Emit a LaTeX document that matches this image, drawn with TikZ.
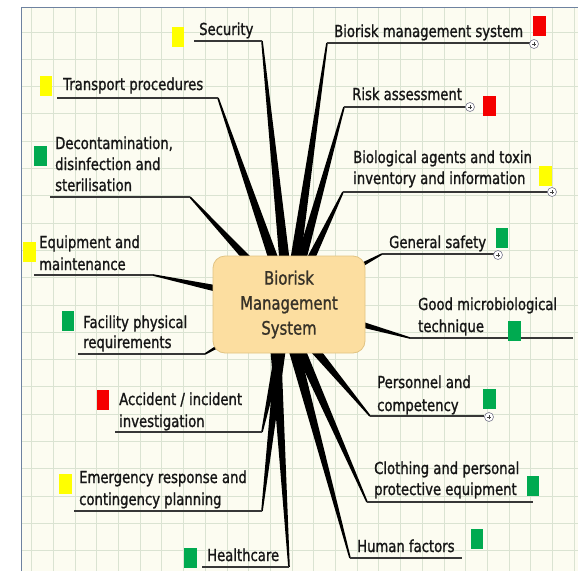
\documentclass[tikz,border=0pt]{standalone}
\usepackage{fontspec}
\setmainfont[FakeStretch=0.8,FakeBold=1.2]{DejaVu Sans}
\usetikzlibrary{calc}
\definecolor{bgc}{RGB}{252,252,241}
\definecolor{gridc}{RGB}{218,227,210}
\definecolor{framec}{RGB}{110,130,160}
\definecolor{txtc}{RGB}{22,22,22}
\definecolor{ulc}{RGB}{55,55,55}
\definecolor{corefill}{RGB}{252,222,160}
\definecolor{coredraw}{RGB}{225,195,130}
\definecolor{coretxt}{RGB}{55,50,40}
\definecolor{fy}{RGB}{255,255,0}
\definecolor{fr}{RGB}{245,0,0}
\definecolor{fg}{RGB}{0,170,80}
\definecolor{plc}{RGB}{120,120,140}
\newcommand\mlines[1]{\begin{tabular}[t]{@{}l@{}}#1\end{tabular}}
\newcommand\branchwedge[2]{\fill[black] ($(#1)!0.8pt!90:(#2)$) -- ($(#2)!6pt!-90:(#1)$) -- ($(#2)!6pt!90:(#1)$) -- ($(#1)!0.8pt!-90:(#2)$) -- cycle;}
\tikzset{
  lbl/.style={font=\fontsize{16.5}{21}\selectfont, inner sep=0pt, anchor=base west, text=txtc},
  uline/.style={draw=ulc, line width=1.1pt},
  flag/.style={rectangle, inner sep=0pt, minimum width=12.5pt, minimum height=20pt},
  plusc/.style={circle, draw=plc, fill=white, minimum size=9pt, inner sep=0pt, line width=0.6pt,
    path picture={\draw[line width=0.7pt, black!75]
      ([xshift=-2.2pt]path picture bounding box.center) -- ([xshift=2.2pt]path picture bounding box.center)
      ([yshift=-2.2pt]path picture bounding box.center) -- ([yshift=2.2pt]path picture bounding box.center);}},
  corebox/.style={rectangle, rounded corners=12pt, fill=corefill, draw=coredraw, line width=0.8pt,
    minimum width=152pt, minimum height=97pt, align=center, text=coretxt,
    font=\fontsize{18.5}{25}\selectfont}
}
\begin{document}
\begin{tikzpicture}[x=1pt,y=-1pt]
% background
\fill[white] (0,0) rectangle (578,571);
\useasboundingbox (0,0) rectangle (578,571);
\fill[bgc] (21.5,7) rectangle (578,571);
\begin{scope}
\clip (21.5,7) rectangle (578,571);
\foreach \k in {0,...,25} {\draw[gridc, line width=1pt] ({31.7+21.7*\k},7) -- ({31.7+21.7*\k},571);}
\foreach \k in {0,...,19} {\draw[gridc, line width=1pt] (21.5,{32+27.3*\k}) -- (578,{32+27.3*\k});}
\end{scope}
\draw[framec, line width=1pt] (21.5,571) -- (21.5,7) -- (578,7);

% roots
\coordinate (rt) at (289,304);
\coordinate (rAcc) at (286,320);
\coordinate (rEme) at (284,320);
\coordinate (rHea) at (274,320);
\coordinate (rHum) at (286,320);
\coordinate (rClo) at (287,320);
\coordinate (rPer) at (290,320);

% underline ends
\coordinate (sec1) at (194,41);  \coordinate (sec2) at (262,41);
\coordinate (tra1) at (57,98);   \coordinate (tra2) at (218,98);
\coordinate (dec1) at (50,197);  \coordinate (dec2) at (190,197);
\coordinate (equ1) at (34,275);  \coordinate (equ2) at (153,275);
\coordinate (fac1) at (78,354);  \coordinate (fac2) at (205,354);
\coordinate (acc1) at (115,432); \coordinate (acc2) at (262,432);
\coordinate (eme1) at (74,511);  \coordinate (eme2) at (262,511);
\coordinate (hea1) at (202,567); \coordinate (hea2) at (289,567);
\coordinate (hum1) at (350,558); \coordinate (hum2) at (462,558);
\coordinate (clo1) at (367,502); \coordinate (clo2) at (533,502);
\coordinate (per1) at (370,416); \coordinate (per2) at (484,416);
\coordinate (goo1) at (410,338); \coordinate (goo2) at (573,338);
\coordinate (gen1) at (382,254); \coordinate (gen2) at (497,254);
\coordinate (bio1) at (343,192); \coordinate (bio2) at (552,192);
\coordinate (ris1) at (344,107); \coordinate (ris2) at (467,107);
\coordinate (bms1) at (327,43);  \coordinate (bms2) at (532,43);

% wedges
\branchwedge{sec2}{rt}
\branchwedge{tra2}{rt}
\branchwedge{dec2}{rt}
\branchwedge{equ2}{rt}
\branchwedge{fac2}{rt}
\branchwedge{acc2}{rAcc}
\branchwedge{eme2}{rEme}
\branchwedge{hea2}{rHea}
\branchwedge{hum1}{rHum}
\branchwedge{clo1}{rClo}
\branchwedge{per1}{rPer}
\branchwedge{goo1}{rt}
\branchwedge{gen1}{rt}
\branchwedge{bio1}{rt}
\branchwedge{ris1}{rt}
\branchwedge{bms1}{rt}

% underlines
\foreach \n in {sec,tra,dec,equ,fac,acc,eme,hea,hum,clo,per,goo,gen,bio,ris,bms}
  {\draw[uline] (\n1) -- (\n2);}

% central topic
\node[corebox] (core) at (289,304.5) {Biorisk\\Management\\System};

% labels
\node[lbl] (sec) at (199,35) {Security};
\node[lbl] (tra) at (63,90) {Transport procedures};
\node[lbl] (dec) at (55,149) {\mlines{Decontamination,\\disinfection and\\sterilisation}};
\node[lbl] (equ) at (39,248) {\mlines{Equipment and\\[1pt]maintenance}};
\node[lbl] (fac) at (83,328) {\mlines{Facility physical\\[-1pt]requirements}};
\node[lbl] (acc) at (119,405) {\mlines{Accident / incident\\[1pt]investigation}};
\node[lbl] (eme) at (79,483) {\mlines{Emergency response and\\[1pt]contingency planning}};
\node[lbl] (hea) at (207,561) {Healthcare};
\node[lbl] (hum) at (357,552) {Human factors};
\node[lbl] (clo) at (374,474) {\mlines{Clothing and personal\\protective equipment}};
\node[lbl] (per) at (377,388) {\mlines{Personnel and\\[2pt]competency}};
\node[lbl] (goo) at (418,310) {\mlines{Good microbiological\\[1pt]technique}};
\node[lbl] (gen) at (389,248) {General safety};
\node[lbl] (bio) at (353,163) {\mlines{Biological agents and toxin\\inventory and information}};
\node[lbl] (ris) at (352,100) {Risk assessment};
\node[lbl] (bms) at (334,37) {Biorisk management system};

% flags
\node[flag, fill=fy] (fsec) at (178,37) {};
\node[flag, fill=fy] (ftra) at (46,86) {};
\node[flag, fill=fg] (fdec) at (40.5,156) {};
\node[flag, fill=fy] (fequ) at (29.5,252) {};
\node[flag, fill=fg] (ffac) at (68,321) {};
\node[flag, fill=fr] (facc) at (103,400) {};
\node[flag, fill=fy] (feme) at (65.5,484) {};
\node[flag, fill=fg] (fhea) at (190.5,558) {};
\node[flag, fill=fg] (fhum) at (477,539) {};
\node[flag, fill=fg] (fclo) at (533,486) {};
\node[flag, fill=fg] (fper) at (489.5,399) {};
\node[flag, fill=fg] (fgoo) at (514.5,331) {};
\node[flag, fill=fg] (fgen) at (502,238) {};
\node[flag, fill=fy] (fbio) at (545.5,175.5) {};
\node[flag, fill=fr] (fris) at (489.5,106) {};
\node[flag, fill=fr] (fbms) at (539.5,26) {};

% expand markers
\node[plusc] (pbms) at (534,44) {};
\node[plusc] (pris) at (470,107) {};
\node[plusc] (pbio) at (552,192) {};
\node[plusc] (pgen) at (498,255) {};
\node[plusc] (pper) at (489,417) {};
\end{tikzpicture}
\end{document}
